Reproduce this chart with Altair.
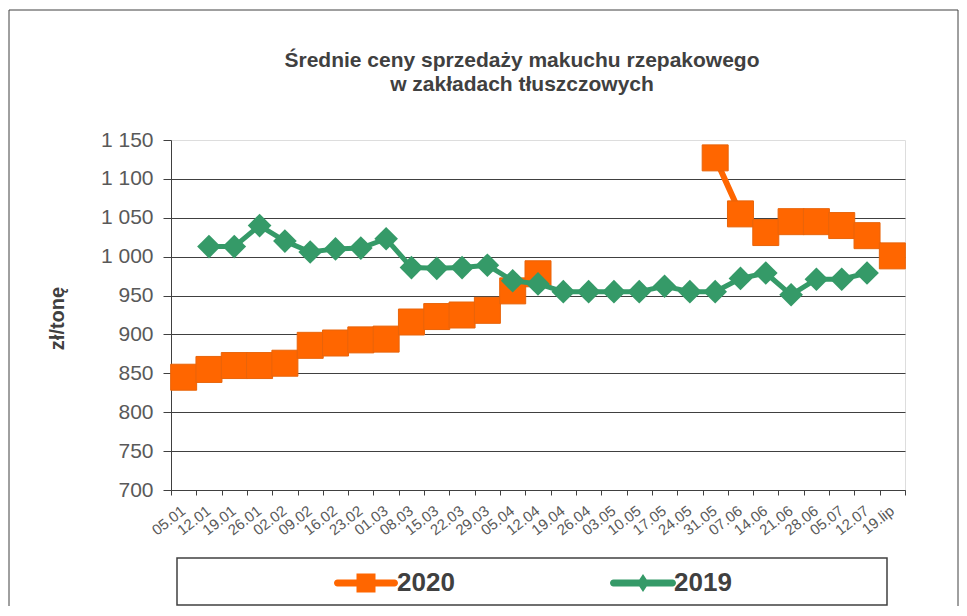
import altair as alt
import pandas as pd

dates = ["05.01", "12.01", "19.01", "26.01", "02.02", "09.02", "16.02", "23.02",
         "01.03", "08.03", "15.03", "22.03", "29.03", "05.04", "12.04", "19.04",
         "26.04", "03.05", "10.05", "17.05", "24.05", "31.05", "07.06", "14.06",
         "21.06", "28.06", "05.07", "12.07", "19.lip"]

v2020 = [845, 855, 860, 860, 863, 886, 889, 893, 894, 916, 923, 925, 931, 956, 978,
         None, None, None, None, None, None,
         1127, 1055, 1031, 1045, 1045, 1040, 1027, 1001]

v2019 = [None, 1013, 1013, 1040, 1020, 1006, 1010, 1011, 1023, 986, 985, 986, 989, 969,
         965, 955, 955, 955, 955, 962, 955, 955, 972, 979, 951, 971, 971, 979, None]

series_names = ["2020", "2019"]
series_colors = ["#FF6600", "#359A68"]
y_ticks = [700, 750, 800, 850, 900, 950, 1000, 1050, 1100, 1150]

title_lines = ["Średnie ceny sprzedaży makuchu rzepakowego", "w zakładach tłuszczowych"]
y_title = "zł/tonę"

rows = []
for name, vals in zip(series_names, [v2020, v2019]):
    seg = 0
    prev = False
    for d, v in zip(dates, vals):
        if v is None:
            prev = False
            continue
        if not prev:
            seg += 1
        prev = True
        rows.append({"date": d, "series": name, "value": v, "seg": f"{name}-{seg}"})
df = pd.DataFrame(rows)

FONT = "Liberation Sans"

x_enc = alt.X(
    "date:N", sort=dates,
    scale=alt.Scale(type="band", paddingInner=0, paddingOuter=0, domain=dates),
    axis=alt.Axis(title=None, labelAngle=-38, labelFontSize=15, labelColor="#595959",
                  labelFont=FONT, tickBand="extent", tickSize=5, tickColor="#404040",
                  domainColor="#404040", labelPadding=8, labelAlign="right",
                  labelBaseline="top", labelOffset=-5, grid=False, labelOverlap=False),
)
y_enc = alt.Y(
    "value:Q",
    scale=alt.Scale(domain=[700, 1150], nice=False, zero=False),
    axis=alt.Axis(values=y_ticks,
                  labelExpr="replace(format(datum.value, ','), ',', ' ')",
                  labelFontSize=21, labelColor="#595959", labelFont=FONT,
                  tickSize=8, tickColor="#404040", domainColor="#404040",
                  labelPadding=10, grid=True,
                  gridColor={"condition": {"test": "datum.value == 1150", "value": "transparent"},
                             "value": "#404040"},
                  title=y_title, titleFontSize=20, titleFontWeight="bold",
                  titleColor="#404040", titleFont=FONT,
                  titleX=-114, titleY=178, titleAngle=270,
                  titleAlign="center", titleBaseline="middle"),
)

sym_expr = ("datum.value == '2020' ? "
            "'M-2.85,-0.35H2.85A0.35,0.35 0 0 1 2.85,0.35H-2.85A0.35,0.35 0 0 1 -2.85,-0.35Z "
            "M-0.95,-0.95H0.95V0.95H-0.95Z' : "
            "'M-2.95,-0.35H2.95A0.35,0.35 0 0 1 2.95,0.35H-2.95A0.35,0.35 0 0 1 -2.95,-0.35Z "
            "M0,-0.9L0.6,0L0,0.9L-0.6,0Z'")

legend = alt.Legend(
    orient="none", legendX=182, legendY=430, direction="horizontal", title=None,
    symbolType={"expr": sym_expr}, symbolSize=400, symbolStrokeWidth=0,
    symbolOpacity=1, labelFontSize=26, labelFontWeight="bold", labelColor="#404040",
    labelFont=FONT, labelOffset=18, columnPadding=155, padding=0,
)

color_enc = alt.Color("series:N",
                      scale=alt.Scale(domain=series_names, range=series_colors),
                      legend=legend)

base = alt.Chart(df)

line20 = base.transform_filter("datum.series == '2020'").mark_line(
    color=series_colors[0], strokeWidth=6, strokeJoin="round").encode(
    x=x_enc, y=y_enc, detail="seg:N")
pts20 = base.transform_filter("datum.series == '2020'").mark_point(
    shape="square", size=676, filled=True, opacity=1, stroke="#E8640A",
    strokeWidth=1).encode(x=x_enc, y=y_enc, color=color_enc)
line19 = base.transform_filter("datum.series == '2019'").mark_line(
    color=series_colors[1], strokeWidth=5, strokeJoin="round").encode(
    x=x_enc, y=y_enc, detail="seg:N")
pts19 = base.transform_filter("datum.series == '2019'").mark_point(
    shape="diamond", size=560, filled=True, opacity=1, color=series_colors[1]).encode(
    x=x_enc, y=y_enc)

one = pd.DataFrame({"k": [0]})
border = alt.Chart(one).mark_rect(fill="transparent", stroke="#404040", strokeWidth=1).encode(
    x=alt.value(-162), x2=alt.value(787), y=alt.value(-130), y2=alt.value(520))
legbox = alt.Chart(one).mark_rect(fill="transparent", stroke="#404040", strokeWidth=1.5).encode(
    x=alt.value(6), x2=alt.value(716), y=alt.value(418), y2=alt.value(465))

chart = alt.layer(border, line20, pts20, line19, pts19, legbox).properties(
    width=734, height=350,
    autosize=alt.AutoSizeParams(type="none"),
    padding={"left": 163, "top": 132, "right": 54, "bottom": 116},
    title=alt.Title(text=title_lines, fontSize=21, fontWeight="bold", color="#404040",
                    font=FONT, anchor="middle", dx=-16, offset=-85, lineHeight=24),
).configure_view(stroke=None).configure(background="white")

chart.save("out.html", embed_options={"renderer": "svg", "actions": False})
